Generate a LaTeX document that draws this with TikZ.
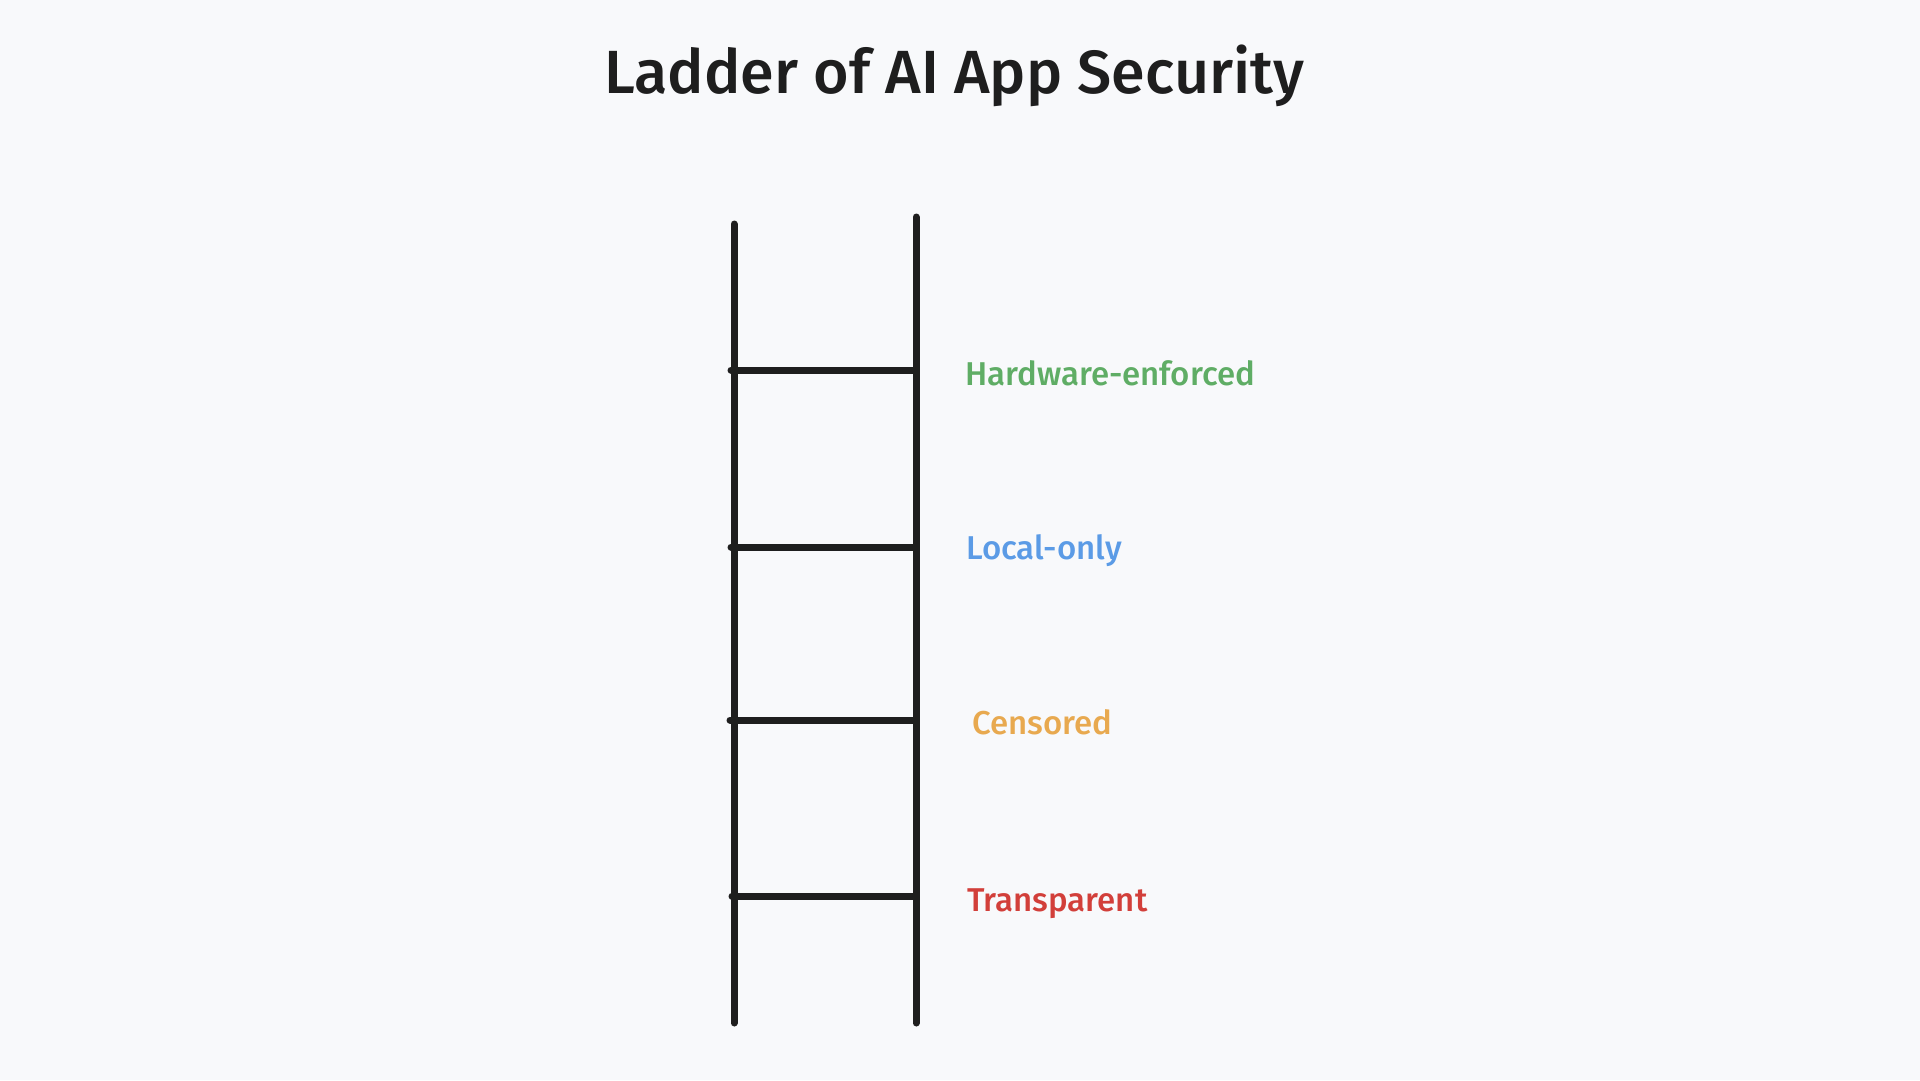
\documentclass[tikz,border=0pt]{standalone}
\usepackage{fontspec}
\setmainfont{Fira Sans}
\newfontfamily\medfont{Fira Sans Medium}
\usetikzlibrary{positioning, calc}

\definecolor{bgcol}{HTML}{F8F9FB}
\definecolor{inkcol}{HTML}{1E1E1E}
\definecolor{hwcol}{HTML}{5FAD65}
\definecolor{localcol}{HTML}{5B9BE6}
\definecolor{censcol}{HTML}{E8A94F}
\definecolor{transcol}{HTML}{D23F3A}

\begin{document}
\begin{tikzpicture}[
	  x=1pt, y=-1pt,
	  rail/.style={draw=inkcol, line width=7pt, line cap=round},
	  rung/.style={draw=inkcol, line width=7pt, line cap=round},
	  title/.style={font=\medfont\fontsize{61}{66}\selectfont, text=inkcol},
	  level/.style={font=\medfont\fontsize{33}{38}\selectfont, anchor=west, inner sep=0pt}
	]
	
	% Canvas
	\fill[bgcol] (0,0) rectangle (1920,1080);
	\useasboundingbox (0,0) rectangle (1920,1080);
	
	\node[title] (title) at (954,76) {Ladder of AI App Security};
	
	% Rails
	\coordinate (lefttop) at (734,224);
	\coordinate (leftbot) at (734,1023);
	\coordinate (righttop) at (916,217);
	\coordinate (rightbot) at (916,1023);
	\draw[rail] (lefttop) -- (leftbot);
	\draw[rail] (righttop) -- (rightbot);
	
	% Rungs
	\coordinate (hwL) at (731,370);
	\coordinate (hwR) at (916,370);
	\coordinate (locL) at (731,547);
	\coordinate (locR) at (914,547);
	\coordinate (cenL) at (730,720);
	\coordinate (cenR) at (914,720);
	\coordinate (traL) at (732,896);
	\coordinate (traR) at (914,896);
	\draw[rung] (hwL) -- (hwR);
	\draw[rung] (locL) -- (locR);
	\draw[rung] (cenL) -- (cenR);
	\draw[rung] (traL) -- (traR);
	
	% Levels
	\node[level, text=hwcol] (hardware) at (965,373) {Hardware-enforced};
	\node[level, text=localcol] (local) at (966,551) {Local-only};
	\node[level, text=censcol] (censored) at (972,722) {Censored};
	\node[level, text=transcol] (transparent) at (967,904) {Transparent};
	
	\end{tikzpicture}
\end{document}
